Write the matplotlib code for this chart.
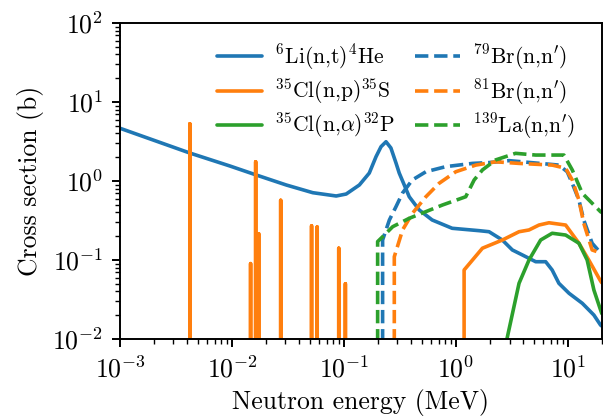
import numpy as np
import matplotlib
matplotlib.use("Agg")
import matplotlib.pyplot as plt

plt.rcParams["font.family"] = "serif"
plt.rcParams["font.serif"] = ["cmr10", "DejaVu Serif"]
plt.rcParams["mathtext.fontset"] = "cm"
plt.rcParams["axes.formatter.use_mathtext"] = True
plt.rcParams["axes.unicode_minus"] = False

# 6Li(n,t)4He
li_e = [0.001, 0.0042, 0.00955, 0.0165, 0.0305, 0.0526, 0.0851, 0.1045, 0.137,
        0.168, 0.193, 0.214, 0.237, 0.262, 0.291, 0.311, 0.382, 0.469, 0.612,
        0.923, 1.61, 1.97, 2.59, 3.18, 3.90, 5.14, 6.31, 7.21, 8.28, 10.2,
        13.4, 17.0, 19.5, 20.0]
li_xs = [4.65, 2.26, 1.55, 1.19, 0.89, 0.711, 0.646, 0.684, 0.89,
         1.26, 2.03, 2.72, 3.14, 2.62, 1.69, 1.26, 0.632, 0.430, 0.321,
         0.252, 0.235, 0.228, 0.179, 0.134, 0.116, 0.0951, 0.0951, 0.0747,
         0.0507, 0.0379, 0.0283, 0.0201, 0.0150, 0.0146]

# 35Cl(n,p)35S: narrow resonances and the continuum above 1 MeV
clp_res_e = [0.0042, 0.01465, 0.01626, 0.0173, 0.0272, 0.0513, 0.0576,
             0.0897, 0.1028]
clp_res_xs = [5.3, 0.090, 1.75, 0.215, 0.57, 0.27, 0.262, 0.141, 0.050]
clp_cont_e = [1.18, 1.18, 1.72, 2.59, 3.65, 4.48, 5.50, 6.75, 9.51, 12.5,
              15.3, 19.5, 20.0]
clp_cont_xs = [1e-4, 0.0747, 0.141, 0.179, 0.228, 0.240, 0.277, 0.296,
               0.277, 0.163, 0.100, 0.0542, 0.0515]

# 35Cl(n,alpha)32P
cla_e = [2.75, 3.65, 4.48, 5.69, 7.21, 9.51, 12.5, 14.8, 17.0, 19.5, 20.0]
cla_xs = [0.008, 0.0507, 0.100, 0.179, 0.218, 0.207, 0.163, 0.100,
          0.0417, 0.0233, 0.021]

# 79Br(n,n')
br79_e = [0.221, 0.221, 0.254, 0.291, 0.333, 0.407, 0.538, 0.811, 1.40,
          1.97, 2.97, 8.28, 9.82, 10.9, 12.5, 13.8, 16.4, 19.5, 20.0]
br79_xs = [1e-4, 0.179, 0.321, 0.473, 0.705, 1.03, 1.31, 1.52, 1.67,
           1.71, 1.81, 1.59, 1.31, 0.935, 0.574, 0.321, 0.163, 0.123, 0.121]

# 81Br(n,n')
br81_e = [0.281, 0.281, 0.333, 0.408, 0.538, 0.706, 0.995, 1.50, 2.26,
          3.65, 7.21, 9.51, 10.9, 12.5, 13.8, 16.4, 19.5, 20.0]
br81_xs = [1e-4, 0.110, 0.240, 0.390, 0.632, 0.935, 1.31, 1.59, 1.75,
           1.67, 1.59, 1.45, 1.03, 0.574, 0.292, 0.134, 0.123, 0.121]

# 139La(n,n')
la_e = [0.1995, 0.1995, 0.221, 0.272, 0.382, 0.757, 1.22, 1.45, 1.72,
        2.26, 3.40, 5.14, 9.18, 10.9, 13.4, 19.5, 20.0]
la_xs = [1e-4, 0.171, 0.197, 0.264, 0.337, 0.497, 0.632, 1.03, 1.38,
         1.85, 2.24, 2.13, 2.13, 1.38, 0.698, 0.408, 0.40]

blue, orange, green = "#1f77b4", "#ff7f0e", "#2ca02c"
lw = 2.6

fig = plt.figure(figsize=(6.03, 4.18), dpi=100)
ax = fig.add_axes([0.199, 0.189, 0.799, 0.756])

# each resonance is drawn as a vertical trace rising from below the axis
floor = 1e-4
res_e = np.repeat(clp_res_e, 3)
res_xs = np.column_stack([np.full(len(clp_res_xs), floor), clp_res_xs,
                          np.full(len(clp_res_xs), floor)]).ravel()
clp_e = np.concatenate([res_e, clp_cont_e])
clp_xs = np.concatenate([res_xs, clp_cont_xs])

kw = dict(lw=lw, solid_joinstyle="round", solid_capstyle="round")
ax.plot(li_e, li_xs, color=blue, label=r"$^{6}$Li(n,t)$^{4}$He", **kw)
ax.plot(clp_e, clp_xs, color=orange, label=r"$^{35}$Cl(n,p)$^{35}$S", **kw)
ax.plot(cla_e, cla_xs, color=green, label=r"$^{35}$Cl(n,$\alpha$)$^{32}$P", **kw)
ax.plot(br79_e, br79_xs, color=blue, ls="--", lw=lw, label=r"$^{79}$Br(n,n$'$)")
ax.plot(br81_e, br81_xs, color=orange, ls="--", lw=lw, label=r"$^{81}$Br(n,n$'$)")
ax.plot(la_e, la_xs, color=green, ls="--", lw=lw, label=r"$^{139}$La(n,n$'$)")

ax.set_xscale("log")
ax.set_yscale("log")
ax.set_xlim(1e-3, 20)
ax.set_ylim(1e-2, 1e2)
ax.set_xlabel("Neutron energy (MeV)", fontsize=18.5, labelpad=5)
ax.set_ylabel("Cross section (b)", fontsize=18.5, labelpad=6)

for s in ax.spines.values():
    s.set_linewidth(1.4)
ax.tick_params(which="major", length=6, width=1.4, labelsize=18.5, pad=6)
ax.tick_params(which="minor", length=3.5, width=1.0)

ax.legend(ncol=2, loc="upper right", bbox_to_anchor=(0.962, 0.966),
          frameon=False, fontsize=15.5, handlelength=2.1, handletextpad=0.6,
          columnspacing=0.9, labelspacing=0.22, borderaxespad=0.0)

fig.savefig("out.png", dpi=100)
